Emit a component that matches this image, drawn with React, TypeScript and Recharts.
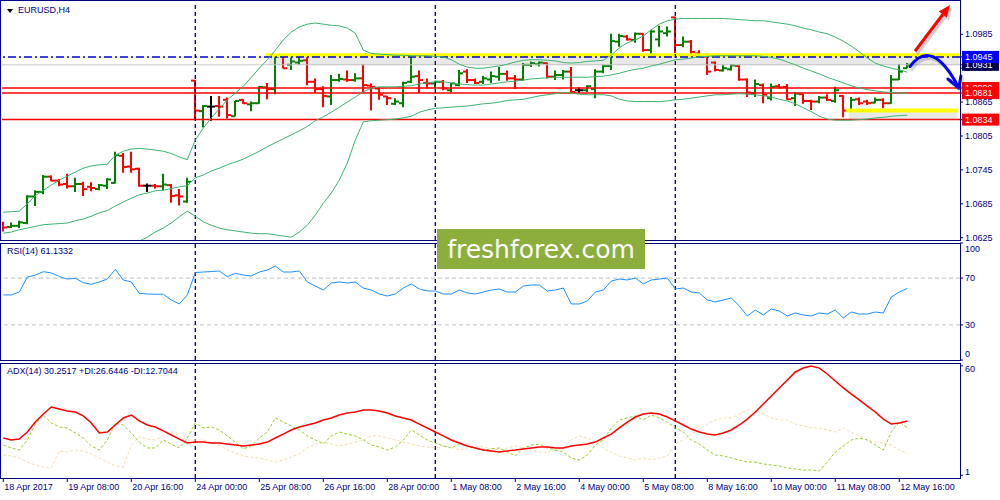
import React from "react";
import { ComposedChart, Bar, Line, XAxis, YAxis, ReferenceLine } from "recharts";

const FONT = "'Liberation Sans', Arial, sans-serif";
const NAVY = "#000080";
const UP = "#008000";
const DOWN = "#ff0000";
const DOJI = "#000000";
const BAND = "#3cb371";

// EURUSD H4, 18 Apr 2017 00:00 .. 12 May 2017 20:00 (one entry per bar)
const timeLabels = [
  "18 Apr 2017", "19 Apr 08:00", "20 Apr 16:00", "24 Apr 00:00", "25 Apr 08:00",
  "26 Apr 16:00", "28 Apr 00:00", "1 May 08:00", "2 May 16:00", "4 May 00:00",
  "5 May 08:00", "8 May 16:00", "10 May 00:00", "11 May 08:00", "12 May 16:00",
];
const timeTicks = [0, 8, 16, 24, 32, 40, 48, 56, 64, 72, 80, 88, 96, 104, 112];
const weekStarts = [24, 54, 84];

const opens = [
  1.0646, 1.0644, 1.0646, 1.0651, 1.0698, 1.0706, 1.0733, 1.0726, 1.0720, 1.0716,
  1.0720, 1.0715, 1.0711, 1.0717, 1.0722, 1.0770, 1.0751, 1.0747, 1.0717, 1.0717,
  1.0716, 1.0718, 1.0700, 1.0689, 1.0903, 1.0849, 1.0857, 1.0858, 1.0869, 1.0840,
  1.0869, 1.0861, 1.0863, 1.0891, 1.0888, 1.0947, 1.0931, 1.0935, 1.0939, 1.0901,
  1.0888, 1.0875, 1.0904, 1.0905, 1.0904, 1.0907, 1.0894, 1.0889, 1.0875, 1.0862,
  1.0863, 1.0901, 1.0911, 1.0899, 1.0898, 1.0901, 1.0886, 1.0895, 1.0919, 1.0904,
  1.0901, 1.0905, 1.0910, 1.0915, 1.0907, 1.0905, 1.0931, 1.0932, 1.0934, 1.0910,
  1.0913, 1.0919, 1.0886, 1.0886, 1.0888, 1.0919, 1.0929, 1.0972, 1.0981, 1.0975,
  1.0986, 1.0957, 1.0976, 1.0987, 1.1015, 1.0966, 1.0972, 1.0951, 1.0945, 1.0935,
  1.0921, 1.0923, 1.0929, 1.0905, 1.0881, 1.0895, 1.0872, 1.0893, 1.0892, 1.0872,
  1.0879, 1.0867, 1.0866, 1.0873, 1.0867, 1.0876, 1.0851, 1.0870, 1.0866, 1.0864,
  1.0869, 1.0863, 1.0905, 1.0925,
];
const highs = [
  1.0653, 1.0652, 1.0655, 1.0700, 1.0709, 1.0736, 1.0735, 1.0729, 1.0738, 1.0731,
  1.0724, 1.0723, 1.0720, 1.0730, 1.0777, 1.0775, 1.0777, 1.0749, 1.0721, 1.0720,
  1.0738, 1.0720, 1.0711, 1.0731, 1.0904, 1.0860, 1.0876, 1.0876, 1.0873, 1.0867,
  1.0870, 1.0866, 1.0893, 1.0899, 1.0948, 1.0948, 1.0944, 1.0945, 1.0945, 1.0907,
  1.0893, 1.0913, 1.0915, 1.0921, 1.0916, 1.0932, 1.0898, 1.0891, 1.0876, 1.0872,
  1.0901, 1.0947, 1.0921, 1.0907, 1.0903, 1.0904, 1.0899, 1.0922, 1.0923, 1.0907,
  1.0911, 1.0919, 1.0927, 1.0921, 1.0913, 1.0934, 1.0937, 1.0937, 1.0935, 1.0921,
  1.0922, 1.0927, 1.0891, 1.0895, 1.0923, 1.0931, 1.0986, 1.0986, 1.0984, 1.0988,
  1.0987, 1.0993, 1.1000, 1.0999, 1.1016, 1.0981, 1.0975, 1.0957, 1.0951, 1.0937,
  1.0931, 1.0932, 1.0931, 1.0907, 1.0905, 1.0898, 1.0898, 1.0897, 1.0897, 1.0883,
  1.0880, 1.0869, 1.0876, 1.0879, 1.0892, 1.0877, 1.0874, 1.0873, 1.0869, 1.0873,
  1.0872, 1.0913, 1.0932, 1.0934,
];
const lows = [
  1.0636, 1.0642, 1.0642, 1.0649, 1.0681, 1.0702, 1.0725, 1.0716, 1.0712, 1.0706,
  1.0699, 1.0707, 1.0709, 1.0711, 1.0721, 1.0740, 1.0740, 1.0715, 1.0706, 1.0712,
  1.0709, 1.0687, 1.0682, 1.0687, 1.0835, 1.0820, 1.0832, 1.0839, 1.0836, 1.0840,
  1.0862, 1.0849, 1.0862, 1.0870, 1.0879, 1.0925, 1.0922, 1.0931, 1.0895, 1.0881,
  1.0856, 1.0860, 1.0901, 1.0901, 1.0901, 1.0881, 1.0850, 1.0869, 1.0860, 1.0860,
  1.0856, 1.0899, 1.0881, 1.0889, 1.0889, 1.0886, 1.0882, 1.0893, 1.0899, 1.0897,
  1.0897, 1.0899, 1.0903, 1.0903, 1.0888, 1.0903, 1.0927, 1.0928, 1.0907, 1.0904,
  1.0905, 1.0882, 1.0881, 1.0883, 1.0872, 1.0916, 1.0922, 1.0963, 1.0974, 1.0970,
  1.0954, 1.0947, 1.0963, 1.0981, 1.0952, 1.0962, 1.0948, 1.0945, 1.0913, 1.0919,
  1.0919, 1.0921, 1.0903, 1.0874, 1.0874, 1.0863, 1.0868, 1.0889, 1.0869, 1.0858,
  1.0862, 1.0851, 1.0863, 1.0867, 1.0864, 1.0838, 1.0850, 1.0860, 1.0860, 1.0863,
  1.0854, 1.0862, 1.0904, 1.0925,
];
const closes = [
  1.0643, 1.0646, 1.0652, 1.0698, 1.0706, 1.0733, 1.0726, 1.0719, 1.0716, 1.0720,
  1.0711, 1.0713, 1.0718, 1.0728, 1.0771, 1.0750, 1.0746, 1.0717, 1.0717, 1.0716,
  1.0719, 1.0699, 1.0698, 1.0724, 1.0850, 1.0858, 1.0857, 1.0857, 1.0842, 1.0867,
  1.0863, 1.0863, 1.0892, 1.0888, 1.0945, 1.0925, 1.0937, 1.0938, 1.0901, 1.0888,
  1.0876, 1.0904, 1.0906, 1.0904, 1.0907, 1.0895, 1.0892, 1.0878, 1.0872, 1.0866,
  1.0899, 1.0910, 1.0904, 1.0898, 1.0901, 1.0889, 1.0898, 1.0916, 1.0904, 1.0899,
  1.0907, 1.0911, 1.0915, 1.0907, 1.0905, 1.0931, 1.0934, 1.0935, 1.0910, 1.0913,
  1.0919, 1.0883, 1.0886, 1.0893, 1.0919, 1.0929, 1.0973, 1.0982, 1.0976, 1.0986,
  1.0957, 1.0990, 1.0990, 1.0990, 1.0966, 1.0972, 1.0954, 1.0948, 1.0919, 1.0922,
  1.0925, 1.0930, 1.0905, 1.0882, 1.0897, 1.0878, 1.0892, 1.0891, 1.0870, 1.0880,
  1.0867, 1.0866, 1.0873, 1.0869, 1.0886, 1.0850, 1.0869, 1.0863, 1.0863, 1.0869,
  1.0863, 1.0905, 1.0919, 1.0931,
];

// Bollinger Bands (20)
const bbUpper = [
  1.0670, 1.0671, 1.0672, 1.0685, 1.0699, 1.0709, 1.0718, 1.0727, 1.0734, 1.0741,
  1.0748, 1.0752, 1.0754, 1.0755, 1.0771, 1.0778, 1.0782, 1.0783, 1.0782, 1.0780,
  1.0778, 1.0774, 1.0768, 1.0763, 1.0798, 1.0819, 1.0837, 1.0853, 1.0869, 1.0881,
  1.0893, 1.0909, 1.0925, 1.0940, 1.0957, 1.0975, 1.0989, 1.0998, 1.1003, 1.1005,
  1.1003, 1.1001, 1.1000, 1.0996, 1.0987, 1.0957, 1.0951, 1.0950, 1.0949, 1.0948,
  1.0948, 1.0947, 1.0947, 1.0947, 1.0946, 1.0945, 1.0940, 1.0932, 1.0927, 1.0925,
  1.0925, 1.0927, 1.0929, 1.0932, 1.0936, 1.0939, 1.0940, 1.0940, 1.0939, 1.0938,
  1.0935, 1.0934, 1.0935, 1.0937, 1.0938, 1.0939, 1.0948, 1.0961, 1.0970, 1.0975,
  1.0982, 1.0993, 1.1003, 1.1009, 1.1012, 1.1013, 1.1013, 1.1013, 1.1013, 1.1013,
  1.1013, 1.1012, 1.1011, 1.1010, 1.1009, 1.1009, 1.1007, 1.1005, 1.1003, 1.1000,
  1.0996, 1.0993, 1.0989, 1.0986, 1.0980, 1.0973, 1.0964, 1.0954, 1.0943, 1.0934,
  1.0929, 1.0925, 1.0922, 1.0918,
];
const bbMiddle = [
  1.0633, 1.0635, 1.0639, 1.0642, 1.0645, 1.0648, 1.0649, 1.0650, 1.0651, 1.0655,
  1.0658, 1.0663, 1.0669, 1.0673, 1.0681, 1.0688, 1.0695, 1.0701, 1.0704, 1.0708,
  1.0709, 1.0712, 1.0715, 1.0717, 1.0731, 1.0736, 1.0743, 1.0748, 1.0754, 1.0759,
  1.0764, 1.0771, 1.0778, 1.0786, 1.0793, 1.0800, 1.0807, 1.0814, 1.0822, 1.0832,
  1.0839, 1.0847, 1.0856, 1.0865, 1.0874, 1.0883, 1.0890, 1.0892, 1.0892, 1.0892,
  1.0893, 1.0894, 1.0897, 1.0899, 1.0901, 1.0901, 1.0899, 1.0897, 1.0896, 1.0895,
  1.0895, 1.0897, 1.0899, 1.0901, 1.0902, 1.0904, 1.0906, 1.0907, 1.0908, 1.0909,
  1.0909, 1.0909, 1.0909, 1.0909, 1.0910, 1.0911, 1.0913, 1.0916, 1.0920, 1.0923,
  1.0925, 1.0929, 1.0932, 1.0936, 1.0940, 1.0941, 1.0943, 1.0945, 1.0946, 1.0947,
  1.0947, 1.0947, 1.0947, 1.0947, 1.0947, 1.0946, 1.0944, 1.0941, 1.0936, 1.0931,
  1.0925, 1.0920, 1.0915, 1.0909, 1.0904, 1.0899, 1.0894, 1.0890, 1.0887, 1.0885,
  1.0883, 1.0882, 1.0881, 1.0881,
];
const bbLower = [
  1.0596, 1.0600, 1.0605, 1.0600, 1.0591, 1.0586, 1.0580, 1.0573, 1.0568, 1.0568,
  1.0568, 1.0575, 1.0584, 1.0591, 1.0591, 1.0598, 1.0609, 1.0619, 1.0626, 1.0635,
  1.0642, 1.0651, 1.0662, 1.0672, 1.0663, 1.0653, 1.0647, 1.0642, 1.0639, 1.0637,
  1.0635, 1.0633, 1.0632, 1.0632, 1.0630, 1.0628, 1.0626, 1.0635, 1.0647, 1.0665,
  1.0686, 1.0704, 1.0727, 1.0757, 1.0798, 1.0830, 1.0832, 1.0833, 1.0834, 1.0835,
  1.0837, 1.0840, 1.0847, 1.0851, 1.0854, 1.0855, 1.0856, 1.0857, 1.0858, 1.0860,
  1.0862, 1.0863, 1.0865, 1.0868, 1.0869, 1.0870, 1.0873, 1.0876, 1.0878, 1.0880,
  1.0882, 1.0881, 1.0879, 1.0878, 1.0878, 1.0878, 1.0876, 1.0870, 1.0867, 1.0866,
  1.0866, 1.0866, 1.0866, 1.0867, 1.0869, 1.0870, 1.0872, 1.0874, 1.0876, 1.0878,
  1.0878, 1.0879, 1.0880, 1.0879, 1.0878, 1.0876, 1.0874, 1.0870, 1.0867, 1.0862,
  1.0855, 1.0848, 1.0840, 1.0835, 1.0833, 1.0833, 1.0833, 1.0834, 1.0835, 1.0837,
  1.0838, 1.0840, 1.0841, 1.0842,
];

const rsi = [
  55.6, 55.6, 58.1, 70.9, 72.6, 75.5, 74.4, 71.4, 69.2, 69.8,
  66.1, 64.7, 66.7, 69.2, 77.5, 68.4, 66.7, 57.0, 56.4, 56.2,
  56.2, 51.3, 47.9, 55.6, 74.8, 75.2, 75.6, 76.1, 71.2, 74.1,
  72.6, 71.8, 75.2, 76.9, 80.3, 75.2, 75.2, 76.1, 66.7, 63.2,
  59.8, 65.8, 66.7, 65.8, 66.7, 61.5, 59.8, 56.4, 54.7, 56.4,
  61.5, 65.0, 60.7, 59.0, 59.0, 56.4, 56.4, 59.8, 57.3, 56.4,
  58.1, 59.8, 60.7, 58.1, 58.1, 63.2, 64.1, 64.1, 59.0, 59.8,
  61.5, 47.9, 47.9, 50.4, 58.1, 59.8, 67.5, 69.2, 68.4, 70.1,
  65.0, 68.4, 69.2, 70.1, 60.7, 61.5, 58.1, 57.3, 51.3, 49.6,
  51.3, 53.0, 46.2, 37.6, 42.7, 38.5, 43.6, 41.9, 37.6, 40.2,
  38.5, 37.6, 40.2, 39.3, 42.7, 35.9, 41.0, 39.3, 39.3, 41.0,
  40.2, 53.8, 58.1, 61.1332,
];
const adx = [
  21.1, 20.0, 20.5, 24.3, 29.7, 34.0, 37.8, 36.7, 35.6, 35.1,
  33.0, 29.2, 23.8, 24.3, 28.1, 31.9, 33.5, 30.3, 28.1, 27.0,
  24.9, 22.7, 20.5, 18.4, 18.9, 18.9, 18.4, 18.4, 17.8, 17.3,
  16.8, 17.3, 17.8, 18.9, 21.1, 23.2, 25.4, 27.0, 28.1, 29.2,
  30.8, 31.9, 33.5, 34.6, 35.1, 36.2, 36.2, 35.6, 34.6, 33.0,
  31.9, 30.8, 28.6, 26.5, 24.3, 22.2, 20.0, 18.4, 16.8, 15.7,
  14.6, 14.1, 13.5, 14.1, 14.6, 15.2, 15.7, 16.2, 16.2, 15.7,
  15.7, 16.8, 17.3, 17.8, 18.9, 21.1, 23.2, 26.5, 29.7, 32.4,
  34.0, 34.6, 34.0, 32.4, 30.3, 28.1, 25.9, 24.3, 23.2, 22.7,
  23.8, 25.4, 28.1, 31.3, 35.1, 39.4, 43.7, 48.1, 52.4, 56.7,
  58.8, 59.9, 58.8, 55.6, 51.8, 48.1, 44.8, 41.6, 38.3, 35.1,
  31.3, 28.6, 29.2, 30.2517,
];
const plusDi = [
  17.3, 15.7, 14.6, 20.0, 28.6, 33.5, 29.2, 27.0, 26.5, 23.8,
  21.1, 16.8, 14.6, 20.0, 29.2, 28.1, 23.8, 18.9, 15.7, 15.7,
  20.0, 17.8, 15.7, 21.1, 29.2, 26.5, 27.0, 25.4, 22.2, 18.9,
  15.2, 16.8, 21.1, 24.3, 31.9, 29.7, 27.6, 25.4, 22.2, 20.0,
  17.8, 22.2, 24.3, 23.2, 22.2, 20.0, 17.3, 16.2, 14.6, 16.2,
  20.0, 25.4, 22.7, 20.0, 18.4, 16.8, 15.7, 17.8, 16.8, 15.7,
  14.6, 15.2, 15.7, 13.5, 11.4, 15.7, 17.3, 17.8, 15.7, 14.6,
  13.5, 10.3, 9.2, 11.9, 17.3, 20.0, 26.5, 30.8, 31.9, 33.0,
  30.8, 33.5, 31.9, 29.7, 26.5, 24.3, 20.0, 17.8, 14.6, 11.9,
  11.4, 10.3, 9.2, 8.1, 8.1, 7.1, 6.5, 6.0, 4.9, 4.4,
  3.8, 3.8, 3.3, 8.1, 13.5, 16.8, 20.0, 21.1, 20.0, 17.3,
  14.6, 24.3, 29.7, 26.6446,
];
const minusDi = [
  11.9, 11.4, 10.3, 8.1, 6.5, 5.4, 4.9, 14.1, 13.5, 14.6,
  14.1, 12.5, 10.3, 8.1, 6.0, 5.4, 17.3, 21.6, 20.5, 20.0,
  22.2, 24.3, 22.2, 20.0, 20.0, 20.0, 18.4, 17.3, 14.6, 13.0,
  11.4, 10.8, 10.3, 9.2, 8.1, 9.2, 10.8, 12.5, 15.7, 17.8,
  18.9, 17.8, 16.8, 17.8, 18.9, 20.0, 22.2, 22.2, 21.1, 20.0,
  18.9, 17.8, 16.8, 16.2, 15.7, 16.8, 16.2, 14.6, 15.7, 16.8,
  16.2, 15.2, 14.6, 15.7, 16.8, 15.7, 14.6, 13.5, 13.5, 14.6,
  15.7, 20.0, 22.2, 21.1, 18.9, 15.7, 13.5, 11.4, 10.3, 9.2,
  10.3, 9.2, 10.3, 11.4, 17.8, 20.0, 23.2, 25.4, 28.6, 30.8,
  31.9, 31.9, 34.0, 36.2, 35.1, 34.0, 31.9, 30.8, 30.8, 28.6,
  27.6, 26.5, 26.5, 25.4, 24.3, 26.5, 24.3, 22.2, 20.0, 18.9,
  18.4, 17.3, 14.6, 12.7044,
];

// price levels drawn on the chart
const priceTicks = [1.0625, 1.0685, 1.0745, 1.0805, 1.0865, 1.0925, 1.0985];
const redLevels = [1.089, 1.0881, 1.0834];
const bidPrice = 1.0931;
const resistance = 1.0945;
const upperZone = 1.0948;
const lowerZone = 1.085;
const rsiLevels = [30, 70];

const rows = opens.map((open, i) => ({
  i,
  open,
  high: highs[i],
  low: lows[i],
  close: closes[i],
  up: bbUpper[i],
  mid: bbMiddle[i],
  lo: bbLower[i],
  rsi: rsi[i],
  adx: adx[i],
  pdi: plusDi[i],
  mdi: minusDi[i],
}));

const X_DOMAIN: [number, number] = [-0.1625, 119.5875];
const PRICE_DOMAIN: [number, number] = [1.06209, 1.10422];

function OhlcBar(props: any) {
  const { x, y, width, height, payload } = props;
  if (!payload || x == null || y == null) return null;
  const { open, high, low, close } = payload;
  const top = Math.min(y, y + height);
  const h = Math.abs(height);
  const cx = Math.round(x + width / 2);
  const span = high - low || 1;
  const at = (v: number) => top + ((high - v) / span) * h;
  const color = close > open ? UP : close < open ? DOWN : DOJI;
  const yo = at(open);
  const yc = at(close);
  return (
    <g stroke={color} strokeWidth={2}>
      <line x1={cx} x2={cx} y1={top} y2={top + Math.max(h, 1)} />
      <line x1={cx - 4} x2={cx} y1={yo} y2={yo} />
      <line x1={cx} x2={cx + 4} y1={yc} y2={yc} />
    </g>
  );
}

function tagColor(v: number): string | null {
  if (Math.abs(v - resistance) < 1e-7) return "#0000ff";
  if (Math.abs(v - bidPrice) < 1e-7) return "#000050";
  if (redLevels.some((r) => Math.abs(v - r) < 1e-7)) return "#ff0000";
  return null;
}

function PriceTick(props: any) {
  const { x, y, payload } = props;
  const v = payload.value as number;
  const txt = v.toFixed(4);
  const bg = tagColor(v);
  if (!bg) {
    return (
      <text x={x} y={y} dy="0.35em" fill={NAVY} fontSize={9} fontFamily={FONT}>
        {txt}
      </text>
    );
  }
  return (
    <g>
      <rect x={x - 3} y={y - 6} width={37} height={12} fill={bg} />
      <text x={x} y={y} dy="0.35em" fill="#ffffff" fontSize={9} fontFamily={FONT}>
        {txt}
      </text>
    </g>
  );
}

function LevelTick(props: any) {
  const { x, y, payload, shift } = props;
  const s = (shift && shift[payload.value]) || 0;
  return (
    <text x={x} y={y + s} dy="0.35em" fill={NAVY} fontSize={9} fontFamily={FONT}>
      {payload.value}
    </text>
  );
}

function TimeTick(props: any) {
  const { x, y, payload } = props;
  const k = timeTicks.indexOf(payload.value);
  return (
    <text x={x + 1} y={y} dy="0.71em" fill={NAVY} fontSize={9} fontFamily={FONT}>
      {timeLabels[k]}
    </text>
  );
}

function ZoneLine(p: any) {
  const { x1, y1, x2, y2 } = p;
  return (
    <g>
      <line x1={x1 + 3} y1={y1 + 5} x2={x2} y2={y2 + 5} stroke="#808080" strokeOpacity={0.18} strokeWidth={9} />
      <line x1={x1} y1={y1} x2={x2} y2={y2} stroke="#ffff00" strokeWidth={4} />
    </g>
  );
}

function RedArrow(p: any) {
  const { x1, y1, x2, y2 } = p;
  const a = Math.atan2(y2 - y1, x2 - x1);
  const L = 12;
  const W = 5;
  const bx = x2 - L * Math.cos(a);
  const by = y2 - L * Math.sin(a);
  const nx = -Math.sin(a) * W;
  const ny = Math.cos(a) * W;
  const head = `M${x2},${y2} L${bx + nx},${by + ny} L${bx - nx},${by - ny} Z`;
  return (
    <g>
      <g transform="translate(2,3)" opacity={0.25}>
        <line x1={x1} y1={y1} x2={bx} y2={by} stroke="#444" strokeWidth={3} />
        <path d={head} fill="#444" />
      </g>
      <line x1={x1} y1={y1} x2={bx} y2={by} stroke="#ff0000" strokeWidth={3} />
      <path d={head} fill="#ff0000" />
    </g>
  );
}

function BlueArrow(p: any) {
  const { x1, y1, x2, y2 } = p;
  const cx = x1 + (x2 - x1) * 0.45;
  const cy = Math.min(y1, y2) - 30;
  const d = `M${x1},${y1} Q${cx},${cy} ${x2},${y2}`;
  const prongs = `M${x2 - 11},${y2 - 9} L${x2},${y2} L${x2 + 2},${y2 - 12}`;
  return (
    <g fill="none" strokeLinecap="round" strokeLinejoin="round">
      <g transform="translate(2,3)" opacity={0.2}>
        <path d={d} stroke="#444" strokeWidth={3} />
        <path d={prongs} stroke="#444" strokeWidth={3} />
      </g>
      <path d={d} stroke="#0000ff" strokeWidth={3} />
      <path d={prongs} stroke="#0000ff" strokeWidth={3} />
    </g>
  );
}

const weekLines = (key: string) =>
  weekStarts.map((w) => (
    <ReferenceLine key={key + w} x={w} stroke={NAVY} strokeWidth={1.3} strokeDasharray="4 3" />
  ));

const boxStyle = (top: number, height: number): React.CSSProperties => ({
  position: "absolute",
  left: 0,
  top,
  width: 961,
  height,
  boxSizing: "border-box",
  border: `1.5px solid ${NAVY}`,
  pointerEvents: "none",
});

const labelStyle = (left: number, top: number): React.CSSProperties => ({
  position: "absolute",
  left,
  top,
  fontFamily: FONT,
  fontSize: 9,
  lineHeight: "11px",
  color: NAVY,
  whiteSpace: "nowrap",
});

export default function App() {
  return (
    <div
      style={{
        position: "absolute",
        left: 0,
        top: 0,
        width: 1000,
        height: 500,
        background: "#ffffff",
        overflow: "hidden",
      }}
    >
      {/* price panel */}
      <div style={{ position: "absolute", left: 0, top: 0 }}>
        <ComposedChart width={1000} height={242} data={rows} margin={{ top: 2, right: 0, bottom: 2, left: 2 }}>
          <XAxis dataKey="i" type="number" domain={X_DOMAIN} allowDataOverflow hide />
          <YAxis
            orientation="right"
            type="number"
            width={40}
            domain={PRICE_DOMAIN}
            allowDataOverflow
            ticks={[...priceTicks, ...redLevels, bidPrice, resistance]}
            interval={0}
            axisLine={false}
            tickLine={{ stroke: NAVY }}
            tickSize={3}
            tickMargin={2}
            tick={(p: any) => <PriceTick {...p} />}
          />
          {redLevels.map((r) => (
            <ReferenceLine key={r} y={r} stroke="#ff0000" strokeWidth={1.5} />
          ))}
          <ReferenceLine y={bidPrice} stroke="#c8c8c8" strokeWidth={1} />
          <ReferenceLine
            segment={[{ x: 32.8, y: upperZone }, { x: 119.5, y: upperZone }]}
            shape={(p: any) => <ZoneLine {...p} />}
          />
          <ReferenceLine
            segment={[{ x: 105.3, y: lowerZone }, { x: 119.3, y: lowerZone }]}
            shape={(p: any) => <ZoneLine {...p} />}
          />
          <ReferenceLine y={resistance} stroke="#0000cd" strokeWidth={1.5} strokeDasharray="8 3 2 3" />
          {weekLines("p")}
          <Line dataKey="up" stroke={BAND} strokeWidth={1} dot={false} activeDot={false} isAnimationActive={false} />
          <Line dataKey="mid" stroke={BAND} strokeWidth={1} dot={false} activeDot={false} isAnimationActive={false} />
          <Line dataKey="lo" stroke={BAND} strokeWidth={1} dot={false} activeDot={false} isAnimationActive={false} />
          <Bar
            dataKey={(d: any) => [d.low, d.high]}
            barSize={8}
            shape={(p: any) => <OhlcBar {...p} />}
            isAnimationActive={false}
          />
          <ReferenceLine
            segment={[{ x: 113.96, y: 1.0955 }, { x: 118.34, y: 1.1037 }]}
            shape={(p: any) => <RedArrow {...p} />}
          />
          <ReferenceLine
            segment={[{ x: 113.34, y: 1.0928 }, { x: 119.45, y: 1.089 }]}
            shape={(p: any) => <BlueArrow {...p} />}
          />
        </ComposedChart>
      </div>

      {/* RSI panel */}
      <div style={{ position: "absolute", left: 0, top: 241 }}>
        <ComposedChart width={1000} height={121} data={rows} margin={{ top: 2, right: 0, bottom: 2, left: 2 }}>
          <XAxis dataKey="i" type="number" domain={X_DOMAIN} allowDataOverflow hide />
          <YAxis
            orientation="right"
            type="number"
            width={40}
            domain={[0, 100]}
            allowDataOverflow
            ticks={[0, 30, 70, 100]}
            interval={0}
            axisLine={false}
            tickLine={{ stroke: NAVY }}
            tickSize={3}
            tickMargin={2}
            tick={(p: any) => <LevelTick {...p} shift={{ 100: 6, 0: -6 }} />}
          />
          {rsiLevels.map((l) => (
            <ReferenceLine key={l} y={l} stroke="#c0c0c0" strokeDasharray="4 3" />
          ))}
          {weekLines("r")}
          <Line dataKey="rsi" stroke="#1e90ff" strokeWidth={1} dot={false} activeDot={false} isAnimationActive={false} />
        </ComposedChart>
      </div>

      {/* ADX panel */}
      <div style={{ position: "absolute", left: 0, top: 362 }}>
        <ComposedChart width={1000} height={138} data={rows} margin={{ top: 2, right: 0, bottom: 0, left: 2 }}>
          <XAxis
            dataKey="i"
            type="number"
            domain={X_DOMAIN}
            allowDataOverflow
            ticks={timeTicks}
            interval={0}
            height={22}
            axisLine={false}
            tickLine={{ stroke: NAVY }}
            tickSize={4}
            tickMargin={2}
            tick={(p: any) => <TimeTick {...p} />}
          />
          <YAxis
            orientation="right"
            type="number"
            width={40}
            domain={[-0.49, 61]}
            allowDataOverflow
            ticks={[1, 60]}
            interval={0}
            axisLine={false}
            tickLine={{ stroke: NAVY }}
            tickSize={3}
            tickMargin={2}
            tick={(p: any) => <LevelTick {...p} shift={{ 60: 3, 1: -3 }} />}
          />
          {weekLines("a")}
          <Line dataKey="mdi" stroke="#f5deb3" strokeWidth={1} strokeDasharray="3 2" dot={false} activeDot={false} isAnimationActive={false} />
          <Line dataKey="pdi" stroke="#9acd32" strokeWidth={1} strokeDasharray="3 2" dot={false} activeDot={false} isAnimationActive={false} />
          <Line dataKey="adx" stroke="#ff0000" strokeWidth={1.5} dot={false} activeDot={false} isAnimationActive={false} />
        </ComposedChart>
      </div>

      {/* panel frames */}
      <div style={boxStyle(0, 241)} />
      <div style={boxStyle(243, 118)} />
      <div style={boxStyle(363, 116)} />

      {/* captions */}
      <div
        style={{
          position: "absolute",
          left: 7,
          top: 9,
          width: 0,
          height: 0,
          borderLeft: "3px solid transparent",
          borderRight: "3px solid transparent",
          borderTop: "4px solid #000",
        }}
      />
      <div style={labelStyle(18, 5)}>EURUSD,H4</div>
      <div style={labelStyle(7, 246)}>RSI(14) 61.1332</div>
      <div style={labelStyle(7, 366)}>ADX(14) 30.2517 +DI:26.6446 -DI:12.7044</div>

      {/* watermark */}
      <div
        style={{
          position: "absolute",
          left: 437,
          top: 229,
          width: 208,
          height: 40,
          background: "#8cae3d",
          color: "#ffffff",
          fontFamily: "'DejaVu Sans', Verdana, sans-serif",
          fontSize: 25,
          display: "flex",
          alignItems: "center",
          justifyContent: "center",
        }}
      >
        freshforex.com
      </div>
    </div>
  );
}
